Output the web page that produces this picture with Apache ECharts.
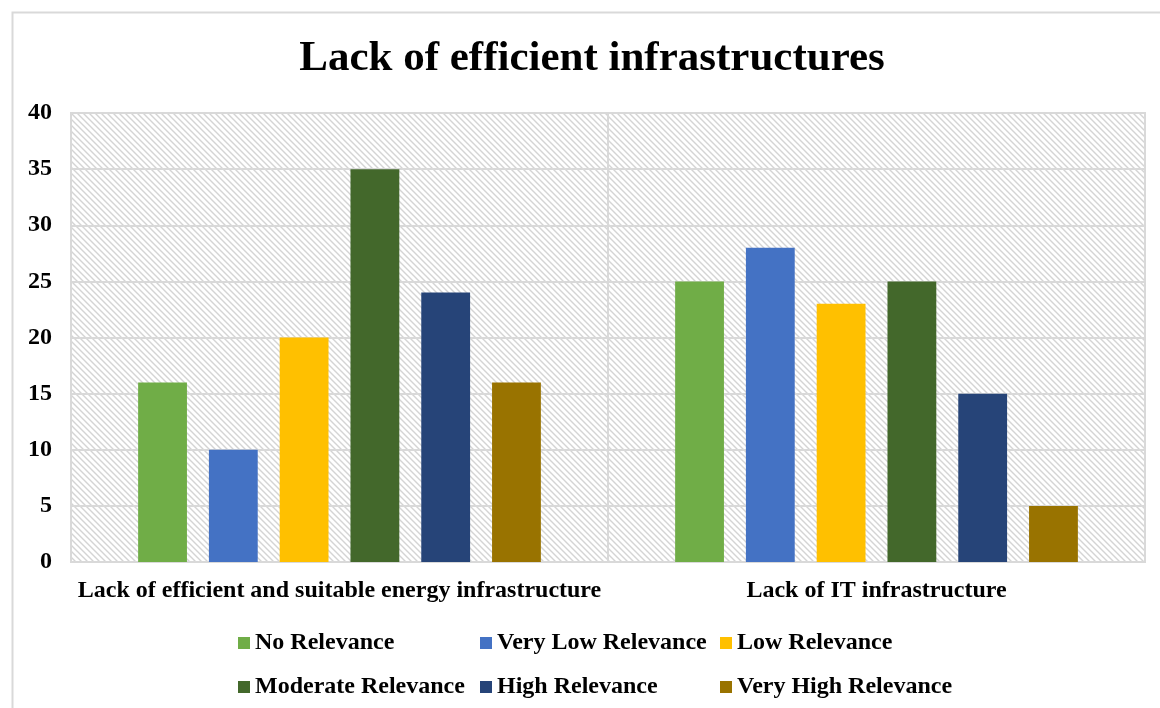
<!DOCTYPE html>
<html>
<head>
<meta charset="utf-8">
<script src="https://cdn.jsdelivr.net/npm/echarts@6/dist/echarts.min.js"></script>
<style>
  html, body { margin: 0; padding: 0; background: #fff; }
  #main { width: 1160px; height: 708px; }
</style>
</head>
<body>
<div id="main"></div>
<script>
// 数据
const categories = ["Lack of efficient and suitable energy infrastructure", "Lack of IT infrastructure"];
const seriesNames = ["No Relevance", "Very Low Relevance", "Low Relevance", "Moderate Relevance", "High Relevance", "Very High Relevance"];
const noRelevance = [16, 25];
const veryLowRelevance = [10, 28];
const lowRelevance = [20, 23];
const moderateRelevance = [35, 25];
const highRelevance = [24, 15];
const veryHighRelevance = [16, 5];
const yTicks = [0, 5, 10, 15, 20, 25, 30, 35, 40];

const seriesData = [noRelevance, veryLowRelevance, lowRelevance, moderateRelevance, highRelevance, veryHighRelevance];
const colors = ["#70ad47", "#4472c4", "#ffc000", "#43682b", "#264478", "#997300"];
const font = "'Liberation Serif', 'DejaVu Serif', serif";

// 绘图区斜线底纹
function makeHatch() {
  const size = 6;
  const c = document.createElement("canvas");
  c.width = size;
  c.height = size;
  const ctx = c.getContext("2d");
  ctx.fillStyle = "#ffffff";
  ctx.fillRect(0, 0, size, size);
  ctx.strokeStyle = "#d4d4d4";
  ctx.lineWidth = 1.4;
  ctx.beginPath();
  ctx.moveTo(-1, -1); ctx.lineTo(size + 1, size + 1);
  ctx.moveTo(-1, size - 1); ctx.lineTo(1, size + 1);
  ctx.moveTo(size - 1, -1); ctx.lineTo(size + 1, 1);
  ctx.stroke();
  return c;
}

const myChart = echarts.init(document.getElementById("main"));

// 三列图例，每列两项，保证列对齐
const legendCols = [[0, 3, 238], [1, 4, 480], [2, 5, 720]];
const legends = legendCols.map(function (col) {
  return {
    orient: "vertical",
    left: col[2],
    top: 631,
    padding: 0,
    itemGap: 20,
    itemWidth: 12,
    itemHeight: 12,
    icon: "rect",
    data: [seriesNames[col[0]], seriesNames[col[1]]],
    textStyle: { fontFamily: font, fontWeight: "bold", fontSize: 24, color: "#000" },
    selectedMode: false
  };
});

const option = {
  animation: false,
  color: colors,
  graphic: [
    {
      type: "rect",
      left: 10,
      top: 10,
      shape: { width: 1200, height: 800 },
      style: { fill: "none", stroke: "#d9d9d9", lineWidth: 2 },
      z: -10
    }
  ],
  title: {
    text: "Lack of efficient infrastructures",
    left: 592,
    textAlign: "center",
    top: 37,
    padding: 0,
    textStyle: { fontFamily: font, fontWeight: "bold", fontSize: 43, color: "#000" }
  },
  legend: legends,
  grid: {
    left: 71,
    right: 15,
    top: 113,
    bottom: 146,
    show: true,
    backgroundColor: { image: makeHatch(), repeat: "repeat" },
    borderColor: "#d9d9d9",
    borderWidth: 2
  },
  xAxis: {
    type: "category",
    data: categories,
    axisLine: { show: false },
    axisTick: { show: false },
    splitLine: { show: true, interval: 0, lineStyle: { color: "#d9d9d9", width: 2 } },
    axisLabel: { interval: 0, hideOverlap: false, fontFamily: font, fontWeight: "bold", fontSize: 24, color: "#000", margin: 17 }
  },
  yAxis: {
    type: "value",
    min: yTicks[0],
    max: yTicks[yTicks.length - 1],
    interval: 5,
    axisLine: { show: false },
    axisTick: { show: false },
    splitLine: { lineStyle: { color: "#d9d9d9", width: 2 } },
    axisLabel: { fontFamily: font, fontWeight: "bold", fontSize: 24, color: "#000", margin: 19 }
  },
  series: seriesNames.map(function (name, i) {
    return {
      name: name,
      type: "bar",
      data: seriesData[i],
      barGap: "45%",
      barCategoryGap: "25%"
    };
  })
};

myChart.setOption(option);
window.addEventListener("resize", function () {
  myChart.resize();
});
</script>
</body>
</html>
